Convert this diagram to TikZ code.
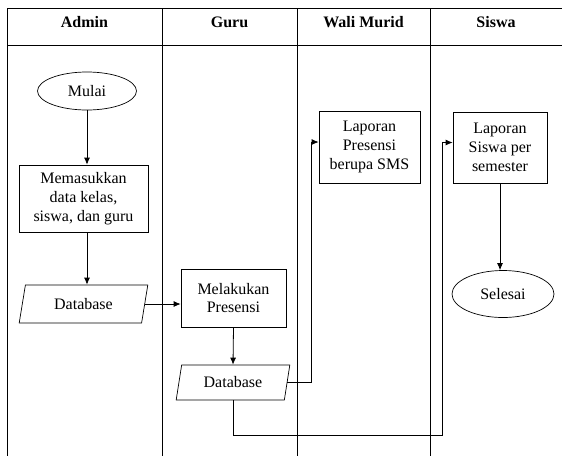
\documentclass[tikz,border=0pt]{standalone}
\usepackage{fontspec}
\setmainfont{Liberation Serif}
\usetikzlibrary{arrows,arrows.meta,shapes,positioning}

\begin{document}
\begin{tikzpicture}
        [
            x=1pt, y=-1pt,
            lane/.style={line width=0.8pt},
            flow/.style={-{Latex[length=7pt,width=6pt]}, line width=0.8pt},
            head/.style={anchor=base, font=\fontsize{16}{18.7}\selectfont\bfseries},
            proc/.style={rectangle, draw, line width=0.7pt, align=center, font=\fontsize{16}{18.7}\selectfont},
            term/.style={ellipse, draw, line width=0.7pt, font=\fontsize{16}{18.7}\selectfont},
            data/.style={trapezium, draw, line width=0.7pt, trapezium left angle=79, trapezium right angle=101,
                trapezium stretches=true, font=\fontsize{16}{18.7}\selectfont},
        ]
            \useasboundingbox (0,0) rectangle (562,456);

            % swimlanes
            \draw[lane] (562,8) -- (7,8) -- (7,456);
            \draw[lane] (7,45) -- (562,45);
            \foreach \x in {162,297,430}
                \draw[lane] (\x,8) -- (\x,456);
            \node[head] (H1) at (84.5,27) {Admin};
            \node[head] (H2) at (229.5,27) {Guru};
            \node[head] (H3) at (363.5,27) {Wali Murid};
            \node[head] (H4) at (496,27) {Siswa};

            \node[term] (mulai) at (87,91) [minimum width=99pt, minimum height=38pt] {Mulai};
            \node[proc] (input) at (83.5,198.5) [minimum width=129pt, minimum height=67pt] {Memasukkan\\data kelas,\\siswa, dan guru};
            \node[data] (db1) at (83.5,304) [minimum width=129pt, minimum height=38pt] {Database};
            \node[proc] (presensi) at (233.5,298) [minimum width=105pt, minimum height=58pt] {Melakukan\\Presensi};
            \node[data] (db2) at (233,382.5) [minimum width=114pt, minimum height=35pt] {Database};
            \node[proc] (sms) at (369.5,147) [minimum width=101pt, minimum height=72pt] {Laporan\\Presensi\\berupa SMS};
            \node[proc] (laporan) at (500,147.5) [minimum width=94pt, minimum height=71pt] {Laporan\\Siswa per\\semester};
            \node[term] (selesai) at (503,294) [minimum width=102pt, minimum height=47pt] {Selesai};
            \coordinate (bawah) at (442,435);

            \draw[flow] (mulai.south) -- (mulai.south |- input.north);
            \draw[flow] (input.south -| mulai.south) -- (mulai.south |- db1.north);
            \draw[flow] (db1.east) -- (db1.east -| presensi.west);
            \draw[flow] (presensi.south) -- (db2.north);
            \draw[flow] (db2.east) -- ++(24,0) |- ([yshift=5pt]sms.west);
            \draw[flow] (db2.south) |- (bawah) |- ([yshift=5pt]laporan.west);
            \draw[flow] (laporan.south) -- (laporan.south |- selesai.north);
        \end{tikzpicture}
\end{document}
